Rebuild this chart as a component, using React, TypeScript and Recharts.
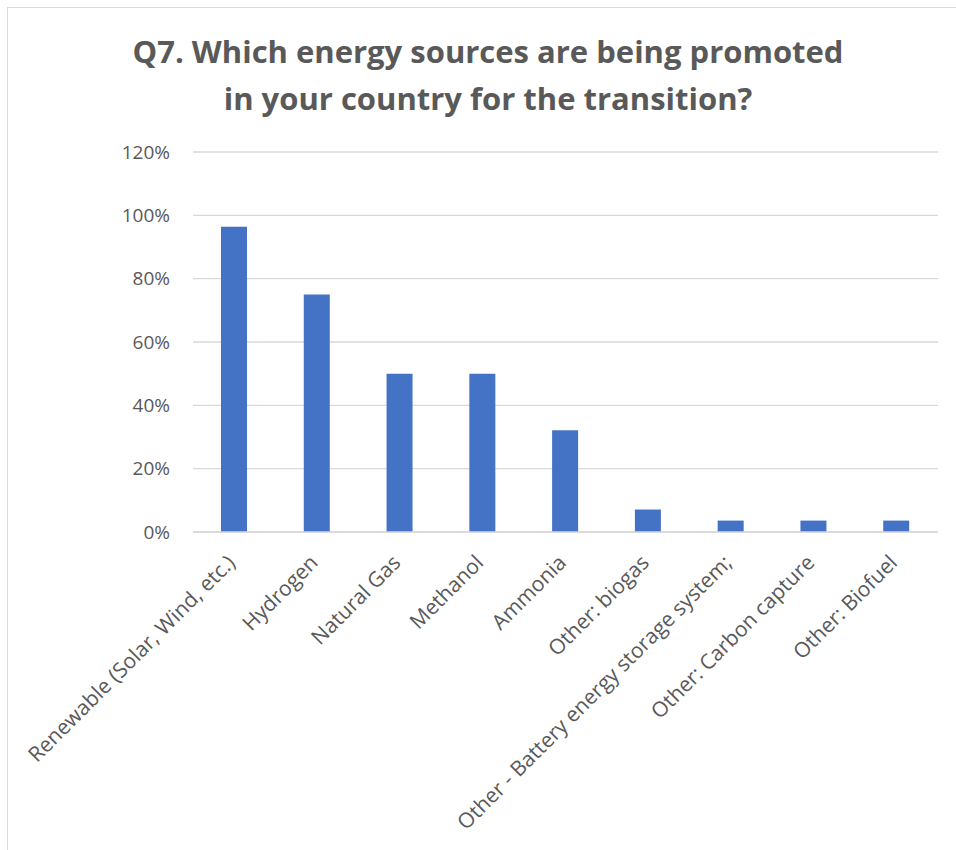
import { BarChart, Bar, XAxis, YAxis, CartesianGrid } from 'recharts';

const categories = [
  'Renewable (Solar, Wind, etc.)',
  'Hydrogen',
  'Natural Gas',
  'Methanol',
  'Ammonia',
  'Other: biogas',
  'Other - Battery energy storage system;',
  'Other: Carbon capture',
  'Other: Biofuel',
];
const shares = [96.4, 75, 50, 50, 32.1, 7.1, 3.6, 3.6, 3.6];
const yTicks = [0, 20, 40, 60, 80, 100, 120];

const FONT = '"Open Sans", Lato, sans-serif';
const TEXT = '#595959';

const data = categories.map((name, i) => ({ name, value: shares[i] }));

function AngledTick(props: any) {
  const { x, y, payload } = props;
  return (
    <text
      transform={`translate(${x + 2},${y + 24}) rotate(-45)`}
      textAnchor="end"
      fill={TEXT}
      fontSize={21}
      fontFamily={FONT}
    >
      {payload.value}
    </text>
  );
}

export default function App() {
  return (
    <div
      style={{
        position: 'absolute',
        left: 7,
        top: 7,
        width: 948,
        height: 842,
        borderTop: '1px solid #d9d9d9',
        borderLeft: '1px solid #d9d9d9',
        background: '#fff',
        overflow: 'hidden',
      }}
    >
      <div
        style={{
          position: 'absolute',
          left: 0,
          top: 20,
          width: 960,
          textAlign: 'center',
          fontFamily: FONT,
          fontWeight: 700,
          fontSize: 31,
          lineHeight: '47px',
          color: TEXT,
        }}
      >
        Q7. Which energy sources are being promoted
        <br />
        in your country for the transition?
      </div>
      <BarChart
        width={948}
        height={842}
        data={data}
        margin={{ top: 144, right: 18, bottom: 19, left: 0 }}
        barSize={26}
      >
        <CartesianGrid vertical={false} stroke="#d9d9d9" strokeWidth={1.3} />
        <XAxis
          dataKey="name"
          interval={0}
          height={299}
          tickLine={false}
          axisLine={{ stroke: '#d9d9d9', strokeWidth: 1.5 }}
          tick={<AngledTick />}
        />
        <YAxis
          width={185}
          domain={[0, 120]}
          ticks={yTicks}
          tickFormatter={(v: number) => `${v}%`}
          axisLine={false}
          tickLine={false}
          tickMargin={17}
          tick={{ fill: TEXT, fontSize: 19, fontFamily: FONT }}
        />
        <Bar dataKey="value" fill="#4472c4" isAnimationActive={false} />
      </BarChart>
    </div>
  );
}
